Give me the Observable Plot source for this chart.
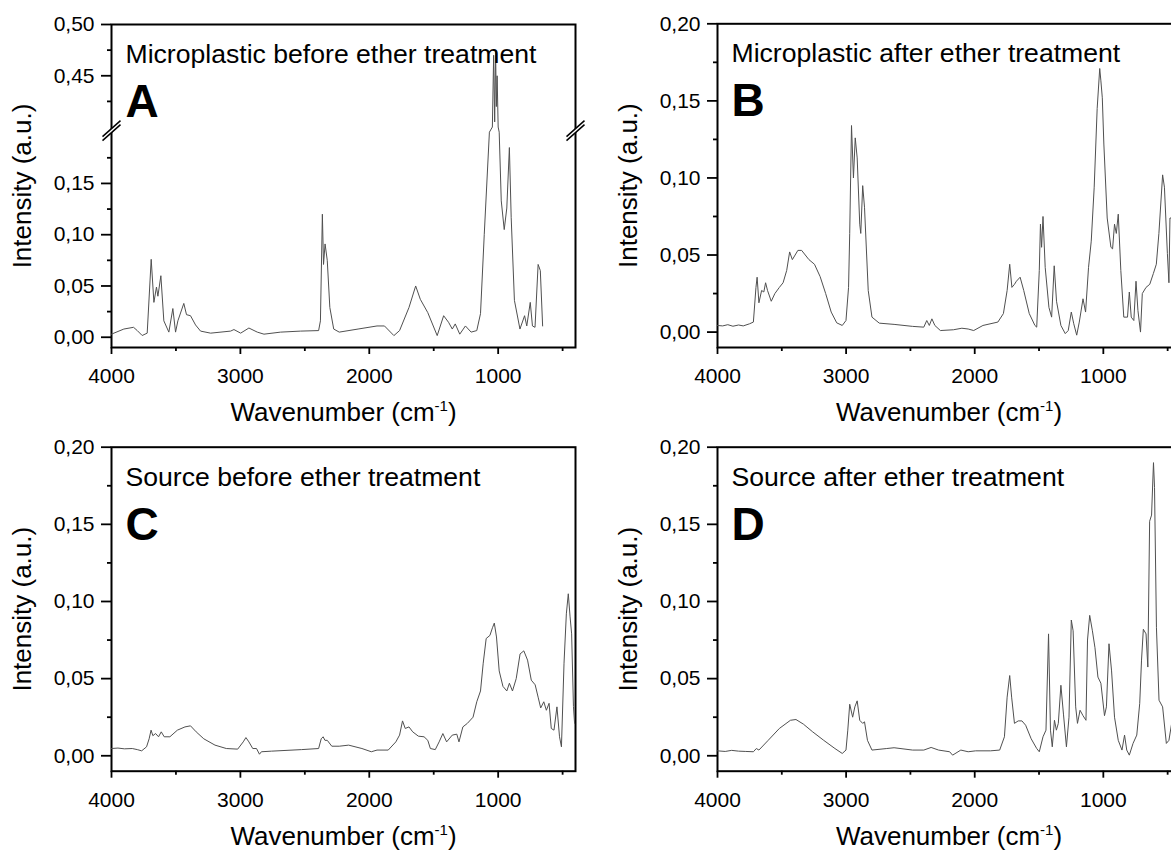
<!DOCTYPE html>
<html><head><meta charset="utf-8">
<script src="https://cdn.jsdelivr.net/npm/d3@7"></script>
<script src="https://cdn.jsdelivr.net/npm/@observablehq/plot@0.6"></script>
<style>
body{margin:0;background:#fff;}
#fig{position:relative;width:1171px;height:853px;overflow:hidden;background:#fff;}
#fig svg{position:absolute;max-width:none !important;}
</style></head><body><div id="fig"></div>
<script>
// ---- tick values ----
const xMajor = [4000, 3000, 2000, 1000];
const xMinor = [3500, 2500, 1500, 500];
const yMajorStd = [0, 0.05, 0.10, 0.15, 0.20];
const yMinorStd = [0.025, 0.075, 0.125, 0.175];
const yMajorA = [0, 0.05, 0.10, 0.15, 0.45, 0.50];
const yMinorA = [0.025, 0.075, 0.125, 0.175, 0.425, 0.475];
const breakLow = 0.20, breakHigh = 0.40;   // A's y axis is broken between these values
const xDomain = [4000, 400];

// ---- texts ----
const titles = ["Microplastic before ether treatment", "Microplastic after ether treatment",
                "Source before ether treatment", "Source after ether treatment"];
const letters = ["A", "B", "C", "D"];
const yTitle = "Intensity (a.u.)";
const xTitleParts = ["Wavenumber (cm", "-1", ")"];

// ---- spectra (wavenumber cm-1, intensity a.u.) ----
const aWave = [4000,3995,3904,3829,3800,3762,3723,3692,3671,3651,3640,3617,3594,3555,3524,3503,3485,3439,3418,3387,3348,3309,3231,3076,3050,2998,2934,2869,2817,2688,2533,2393,2379,2364,2355,2343,2326,2306,2276,2233,2087,1940,1882,1809,1765,1692,1640,1604,1546,1473,1423,1385,1356,1333,1298,1254,1210,1166,1137,1108,1068,1045,1035,1027,1020,1014,1008,1000,992,976,953,933,913,899,874,831,795,778,751,734,714,690,673,655];
const aInt  = [0.003,0.0033,0.008,0.0097,0.0065,0.0017,0.004,0.076,0.034,0.049,0.040,0.060,0.016,0.005,0.028,0.005,0.016,0.033,0.022,0.021,0.012,0.006,0.004,0.006,0.0075,0.004,0.009,0.005,0.003,0.005,0.006,0.0065,0.016,0.12,0.071,0.091,0.075,0.029,0.008,0.005,0.008,0.011,0.011,0.0016,0.0065,0.029,0.050,0.037,0.024,0.0016,0.021,0.0146,0.008,0.013,0.003,0.011,0.005,0.0065,0.023,0.10,0.20,0.40,0.47,0.405,0.475,0.42,0.45,0.40,0.20,0.133,0.105,0.126,0.185,0.117,0.036,0.008,0.021,0.011,0.034,0.011,0.0097,0.071,0.065,0.011];

const bWave = [4000,3960,3920,3880,3836,3800,3750,3721,3701,3692,3678,3657,3640,3626,3611,3582,3554,3519,3490,3462,3439,3418,3375,3346,3289,3246,3202,3159,3116,3073,3030,3001,2981,2972,2958,2943,2929,2914,2894,2886,2871,2857,2828,2799,2742,2627,2483,2396,2373,2353,2333,2310,2267,2166,2100,2051,2008,1936,1820,1777,1748,1728,1711,1691,1676,1647,1619,1576,1532,1518,1498,1489,1480,1469,1452,1423,1402,1382,1364,1330,1296,1273,1249,1230,1207,1187,1158,1138,1115,1094,1071,1048,1028,1019,1008,996,970,941,928,913,899,884,864,841,812,798,783,763,746,731,711,697,668,639,611,588,568,539,525,502,490,482,465];
const bInt  = [0.0043,0.0040,0.0048,0.0038,0.0046,0.0040,0.0054,0.0065,0.029,0.0356,0.019,0.027,0.026,0.032,0.027,0.020,0.025,0.029,0.032,0.040,0.052,0.047,0.053,0.053,0.047,0.044,0.036,0.025,0.013,0.006,0.0043,0.0075,0.029,0.064,0.134,0.100,0.126,0.113,0.070,0.064,0.095,0.081,0.027,0.0097,0.0058,0.005,0.0037,0.0032,0.0075,0.0043,0.0086,0.0043,0.001,0.0015,0.0025,0.002,0.001,0.0043,0.0065,0.012,0.027,0.044,0.029,0.031,0.033,0.0356,0.027,0.012,0.0043,0.0032,0.040,0.070,0.055,0.075,0.042,0.016,0.0097,0.043,0.020,0.0043,-0.001,0.001,0.013,0.0054,-0.002,0.0065,0.0216,0.013,0.042,0.059,0.094,0.145,0.171,0.163,0.152,0.122,0.074,0.055,0.054,0.070,0.064,0.0765,0.040,0.0097,0.0097,0.026,0.0097,0.0075,0.033,0.014,0.0,0.025,0.029,0.031,0.038,0.044,0.064,0.102,0.094,0.051,0.032,0.074,0.074];

const cWave = [4000,3950,3900,3839,3800,3766,3728,3708,3693,3679,3658,3635,3614,3591,3547,3489,3430,3387,3343,3284,3197,3109,3021,2978,2957,2934,2904,2875,2852,2837,2758,2525,2393,2373,2358,2344,2326,2291,2233,2160,2057,1984,1940,1853,1794,1765,1742,1721,1692,1663,1619,1575,1546,1526,1488,1458,1429,1400,1356,1321,1304,1274,1239,1195,1166,1137,1116,1093,1064,1044,1030,1013,992,963,933,913,889,860,830,801,772,743,713,690,670,646,626,605,588,567,544,524,509,489,471,456,442,430,416,407];
const cInt  = [0.0047,0.0050,0.0045,0.0047,0.0040,0.0032,0.0058,0.011,0.0166,0.013,0.0144,0.0123,0.0155,0.0123,0.0123,0.0166,0.0187,0.0194,0.0155,0.011,0.0069,0.0047,0.0043,0.009,0.0118,0.009,0.0047,0.0047,0.001,0.0026,0.003,0.004,0.0047,0.011,0.0123,0.010,0.010,0.0062,0.0062,0.0069,0.0047,0.0026,0.0037,0.0037,0.009,0.0134,0.0226,0.0177,0.0187,0.0155,0.0127,0.0123,0.010,0.0047,0.004,0.009,0.0144,0.009,0.0134,0.014,0.009,0.0187,0.021,0.025,0.035,0.042,0.060,0.076,0.078,0.083,0.086,0.077,0.055,0.045,0.042,0.047,0.042,0.050,0.066,0.068,0.062,0.049,0.046,0.038,0.031,0.035,0.0295,0.034,0.0177,0.0166,0.0317,0.0123,0.0058,0.060,0.092,0.105,0.090,0.079,0.032,0.021];

const dWave = [4000,3940,3890,3836,3780,3721,3698,3678,3606,3519,3433,3390,3332,3260,3174,3087,3030,3001,2987,2972,2949,2932,2914,2894,2871,2857,2834,2799,2684,2627,2483,2396,2339,2281,2195,2172,2108,2051,1993,1878,1806,1769,1748,1728,1713,1691,1662,1633,1604,1561,1518,1498,1469,1446,1426,1411,1397,1380,1365,1350,1330,1310,1287,1267,1249,1235,1215,1201,1181,1158,1135,1123,1106,1085,1065,1042,1019,991,976,956,936,913,884,855,835,818,798,769,740,717,703,689,668,654,640,625,610,602,587,567,539,510,490,465];
const dInt  = [0.0032,0.0028,0.0035,0.003,0.0028,0.0026,0.0047,0.0037,0.010,0.0177,0.023,0.0235,0.0205,0.0155,0.010,0.0047,0.0015,0.0037,0.0166,0.0334,0.025,0.0317,0.0356,0.023,0.021,0.022,0.010,0.0037,0.0047,0.0052,0.0037,0.0037,0.0054,0.0037,0.0026,0.0004,0.0037,0.0026,0.0032,0.0032,0.0037,0.0123,0.038,0.052,0.038,0.021,0.0226,0.0226,0.0198,0.011,0.0047,0.0026,0.0123,0.0166,0.079,0.0166,0.0058,0.023,0.0166,0.021,0.0457,0.027,0.0058,0.025,0.088,0.081,0.0317,0.021,0.0295,0.026,0.023,0.075,0.091,0.081,0.070,0.051,0.047,0.026,0.0317,0.0726,0.055,0.025,0.010,0.0037,0.0134,0.0037,0.0004,0.008,0.0134,0.034,0.062,0.082,0.079,0.0575,0.152,0.156,0.19,0.174,0.083,0.036,0.0317,0.008,0.010,0.023];

const FONT = '"Liberation Sans", Arial, sans-serif';
const fmtY = d => d.toFixed(2).replace(".", ",");

// broken-axis transform for panel A: the gap between breakLow and breakHigh is squeezed
const gapSqueeze = 0.025;
const brokenY = v => v <= breakLow ? v
  : v <= breakHigh ? breakLow + (v - breakLow) * gapSqueeze
  : breakLow + (breakHigh - breakLow) * gapSqueeze + (v - breakHigh);

// custom symbols for the axis-break marks
const breakGap = {draw(ctx) { ctx.moveTo(-9, 6); ctx.lineTo(9, -10); ctx.lineTo(9, -6); ctx.lineTo(-9, 10); ctx.closePath(); }};
const breakLines = {draw(ctx) { ctx.moveTo(-9, 6); ctx.lineTo(9, -10); ctx.moveTo(-9, 10); ctx.lineTo(9, -6); }};

function panel(cfg) {
  const data = cfg.wave.map((w, i) => ({w, v: cfg.inten[i]}));
  const marks = [
    Plot.frame({strokeWidth: 2}),
    Plot.axisX(xMajor, {tickSize: 7, tickPadding: 14, fontSize: 21, tickFormat: d => String(d), strokeWidth: 1.8, label: null}),
    Plot.axisX(xMinor, {tickSize: 4, tickPadding: 14, fontSize: 21, tickFormat: () => "", strokeWidth: 1.8, label: null}),
    Plot.axisY(cfg.yMajor, {tickSize: 10, tickPadding: 7, fontSize: 21, tickFormat: fmtY, strokeWidth: 1.8, label: null}),
    Plot.axisY(cfg.yMinor, {tickSize: 4, tickPadding: 7, fontSize: 21, tickFormat: () => "", strokeWidth: 1.8, label: null}),
    Plot.line(data, {x: "w", y: "v", stroke: "#505050", strokeWidth: 1}),
    Plot.text([cfg.title], {frameAnchor: "top-left", text: d => d, dx: 14, dy: 19.5, fontSize: 26.6, textAnchor: "start", lineAnchor: "top"}),
    Plot.text([cfg.letter], {frameAnchor: "top-left", text: d => d, dx: 14, dy: 60, fontSize: 46, fontWeight: "bold", textAnchor: "start", lineAnchor: "top"}),
    Plot.text([yTitle], {frameAnchor: "left", text: d => d, rotate: -90, dx: -89, fontSize: 26, textAnchor: "middle", lineAnchor: "middle"}),
    Plot.text([xTitleParts.join("")], {frameAnchor: "bottom", text: d => d, dy: 55, fontSize: 26, textAnchor: "middle", lineAnchor: "top"})
  ];
  if (cfg.broken) {
    const bd = xDomain.map(x => ({x, y: (breakLow + breakHigh) / 2}));
    marks.push(Plot.dot(bd, {x: "x", y: "y", symbol: breakGap, fill: "white", stroke: "none", r: 5, dy: 1}));
    marks.push(Plot.dot(bd, {x: "x", y: "y", symbol: breakLines, fill: "none", stroke: "black", strokeWidth: 1.5, r: 5, dy: 1}));
  }
  const yScale = cfg.broken
    ? {domain: [brokenY(cfg.yDomain[0]), brokenY(cfg.yDomain[1])], transform: brokenY}
    : {domain: cfg.yDomain};
  const svg = Plot.plot({
    width: cfg.width, height: cfg.height,
    marginLeft: cfg.mL, marginRight: cfg.mR, marginTop: cfg.mT, marginBottom: cfg.mB,
    x: {domain: xDomain, label: null},
    y: {...yScale, label: null},
    style: {fontFamily: FONT, color: "#000", background: "#fff", overflow: "visible"},
    marks
  });
  // superscript in "Wavenumber (cm-1)"
  const ns = "http://www.w3.org/2000/svg";
  svg.querySelectorAll("text").forEach(t => {
    if (t.textContent === xTitleParts.join("")) {
      t.textContent = "";
      const a = document.createElementNS(ns, "tspan"); a.textContent = xTitleParts[0];
      const b = document.createElementNS(ns, "tspan"); b.textContent = xTitleParts[1];
      b.setAttribute("font-size", 15); b.setAttribute("dy", -10);
      const c = document.createElementNS(ns, "tspan"); c.textContent = xTitleParts[2]; c.setAttribute("dy", 10);
      t.append(a, b, c);
    }
  });
  svg.style.left = cfg.left + "px";
  svg.style.top = cfg.top + "px";
  document.getElementById("fig").appendChild(svg);
}

panel({wave: aWave, inten: aInt, title: titles[0], letter: letters[0], left: 0, top: 0, width: 590, height: 430,
       mL: 111, mR: 15, mT: 24, mB: 83, yDomain: [-0.01, 0.50], yMajor: yMajorA, yMinor: yMinorA, broken: true});
panel({wave: bWave, inten: bInt, title: titles[1], letter: letters[1], left: 590, top: 0, width: 600, height: 430,
       mL: 127, mR: 10, mT: 23.3, mB: 83, yDomain: [-0.01, 0.20], yMajor: yMajorStd, yMinor: yMinorStd});
panel({wave: cWave, inten: cInt, title: titles[2], letter: letters[2], left: 0, top: 430, width: 590, height: 423,
       mL: 111, mR: 15, mT: 16.7, mB: 82.3, yDomain: [-0.01, 0.20], yMajor: yMajorStd, yMinor: yMinorStd});
panel({wave: dWave, inten: dInt, title: titles[3], letter: letters[3], left: 590, top: 430, width: 600, height: 423,
       mL: 127, mR: 10, mT: 16.7, mB: 82.3, yDomain: [-0.01, 0.20], yMajor: yMajorStd, yMinor: yMinorStd});
</script></body></html>
